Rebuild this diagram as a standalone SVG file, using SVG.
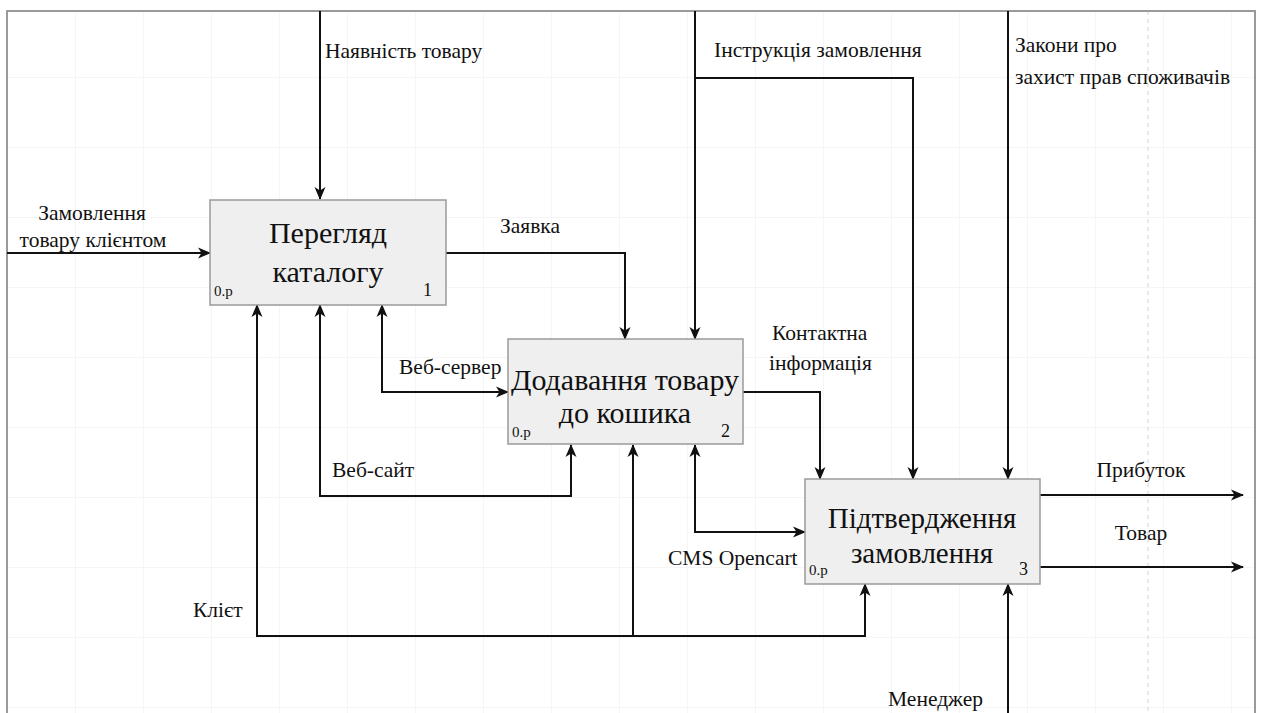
<svg xmlns="http://www.w3.org/2000/svg" width="1263" height="713" viewBox="0 0 1263 713">
<style>
.bg{fill:#ffffff}
.box{fill:#efefef;stroke:#9a9a9a;stroke-width:1.5}
.ln{fill:none;stroke:#111;stroke-width:2}
text{font-family:'Liberation Serif','DejaVu Serif',serif;fill:#111}
.lbl{font-size:21.5px}
.ttl{font-size:30px;text-anchor:middle}
.ttl3{font-size:29px;text-anchor:middle}
.sm{font-size:15px}
.num{font-size:18px}
</style>
<defs>
<marker id="arr" markerUnits="userSpaceOnUse" markerWidth="14" markerHeight="12" refX="12" refY="6" orient="auto-start-reverse" viewBox="0 0 14 12">
<path d="M0,0.5 L13,6 L0,11.5 L3.5,6 Z" fill="#111"/>
</marker>
<pattern id="grid" x="7" y="7" width="68" height="70" patternUnits="userSpaceOnUse">
<path d="M0,0 H68 M0,0 V70" fill="none" stroke="#ececec" stroke-width="1"/>
</pattern>
</defs>
<rect class="bg" x="0" y="0" width="1263" height="713"/>
<rect x="7" y="11" width="1248" height="720" fill="url(#grid)"/>
<line x1="1148" y1="11" x2="1148" y2="713" stroke="#e2e2e2" stroke-width="1.5" stroke-dasharray="4 4"/>
<rect x="7" y="11" width="1248" height="720" fill="none" stroke="#9a9a9a" stroke-width="2"/>

<g id="connectors">
<path class="ln" d="M320,11 V199" marker-end="url(#arr)"/>
<path class="ln" d="M695,11 V339" marker-end="url(#arr)"/>
<path class="ln" d="M695,78 H913 V479" marker-end="url(#arr)"/>
<path class="ln" d="M1008,11 V479" marker-end="url(#arr)"/>
<path class="ln" d="M7,253 H210" marker-end="url(#arr)"/>
<path class="ln" d="M446,253 H625 V339" marker-end="url(#arr)"/>
<path class="ln" d="M743,392 H820 V479" marker-end="url(#arr)"/>
<path class="ln" d="M382,305 V392 H508" marker-start="url(#arr)" marker-end="url(#arr)"/>
<path class="ln" d="M320,305 V496 H571 V445" marker-start="url(#arr)" marker-end="url(#arr)"/>
<path class="ln" d="M695,445 V532 H805" marker-start="url(#arr)" marker-end="url(#arr)"/>
<path class="ln" d="M257,305 V636 H865 V584" marker-start="url(#arr)" marker-end="url(#arr)"/>
<path class="ln" d="M633,636 V445" marker-end="url(#arr)"/>
<path class="ln" d="M1008,713 V584" marker-end="url(#arr)"/>
<path class="ln" d="M1040,495 H1243" marker-end="url(#arr)"/>
<path class="ln" d="M1040,567 H1243" marker-end="url(#arr)"/>
<text class="lbl" x="325" y="58">Наявність товару</text>
<text class="lbl" x="714" y="57">Інструкція замовлення</text>
<text class="lbl" x="1015" y="52">Закони про</text>
<text class="lbl" x="1015" y="84">захист прав споживачів</text>
<text class="lbl" x="92" y="220" text-anchor="middle">Замовлення</text>
<text class="lbl" x="93" y="247" text-anchor="middle">товару клієнтом</text>
<text class="lbl" x="500" y="233">Заявка</text>
<text class="lbl" x="772" y="340">Контактна</text>
<text class="lbl" x="769" y="370">інформація</text>
<text class="lbl" x="399" y="374">Веб-сервер</text>
<text class="lbl" x="332" y="477">Веб-сайт</text>
<text class="lbl" x="668" y="565">CMS Opencart</text>
<text class="lbl" x="193" y="617">Клієт</text>
<text class="lbl" x="1141" y="477" text-anchor="middle">Прибуток</text>
<text class="lbl" x="1141" y="540" text-anchor="middle">Товар</text>
<text class="lbl" x="888" y="706">Менеджер</text>
</g>

<g id="node1">
<rect class="box" x="210" y="200" width="236" height="105"/>
<text class="ttl" x="328" y="243">Перегляд</text>
<text class="ttl" x="328" y="282">каталогу</text>
<text class="sm" x="214" y="296">0.р</text>
<text class="num" x="423" y="296">1</text>
</g>
<g id="node2">
<rect class="box" x="508" y="339" width="235" height="105"/>
<text class="ttl" x="625" y="390">Додавання товару</text>
<text class="ttl" x="625" y="423">до кошика</text>
<text class="sm" x="512" y="437">0.р</text>
<text class="num" x="721" y="437">2</text>
</g>
<g id="node3">
<rect class="box" x="805" y="479" width="235" height="105"/>
<text class="ttl3" x="922" y="528">Підтвердження</text>
<text class="ttl3" x="922" y="563">замовлення</text>
<text class="sm" x="809" y="575">0.р</text>
<text class="num" x="1019" y="575">3</text>
</g>
</svg>
